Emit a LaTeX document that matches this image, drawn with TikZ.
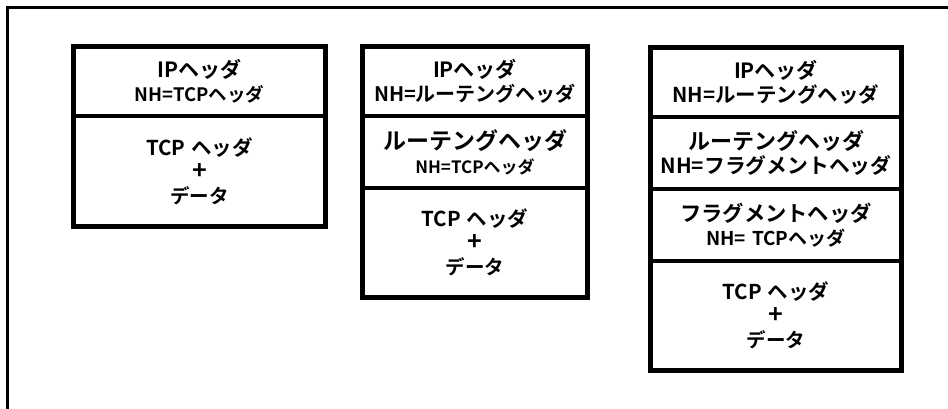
\documentclass[tikz,border=0pt]{standalone}
\usepackage{fontspec}
\newfontfamily\jp{Noto Sans CJK JP Bold}
\newcommand{\tline}[2]{{\fontsize{#1}{24}\selectfont #2}}
\tikzset{
  cell/.style={rectangle, inner sep=0pt, align=center, text width=#1, font=\jp\fontsize{18}{24}\selectfont},
  outerbox/.style={draw=black, line width=5pt},
  divider/.style={draw=black, line width=4pt},
  frame/.style={draw=black, line width=3pt}
}
\begin{document}
\begin{tikzpicture}[x=1pt,y=-1pt]
\useasboundingbox (0,0) rectangle (948,408);
\fill[white] (0,0) rectangle (948,408);
\coordinate (fbl) at (7.5,410);
\coordinate (ftl) at (7.5,7.5);
\coordinate (ftr) at (950,7.5);
\draw[frame] (fbl) -- (ftl) -- (ftr);

% Box 1
\node[cell=251pt, minimum width=251pt, minimum height=69pt] (a1) at (199.5,81.5)
  {\tline{21}{IPヘッダ}\\\tline{18.5}{NH=TCPヘッダ}};
\node[cell=251pt, minimum width=251pt, minimum height=110pt] (a2) at (199.5,171)
  {\tline{20.5}{TCP ヘッダ}\\\tline{25}{+}\\\tline{19.5}{データ}};
\draw[divider] (a1.south west) -- (a1.south east);
\draw[outerbox] (a1.north west) rectangle (a2.south east);

% Box 2
\node[cell=225pt, minimum width=225pt, minimum height=69.5pt] (b1) at (475,81.25)
  {\tline{21}{IPヘッダ}\\\tline{20}{NH=ルーテングヘッダ}};
\node[cell=225pt, minimum width=225pt, minimum height=72pt] (b2) at (475,152)
  {\tline{23}{ルーテングヘッダ}\\\tline{17}{NH=TCPヘッダ}};
\node[cell=225pt, minimum width=225pt, minimum height=109.5pt] (b3) at (475,242.75)
  {\tline{20.5}{TCP ヘッダ}\\\tline{25}{+}\\\tline{19.5}{データ}};
\draw[divider] (b1.south west) -- (b1.south east);
\draw[divider] (b2.south west) -- (b2.south east);
\draw[outerbox] (b1.north west) rectangle (b3.south east);

% Box 3
\node[cell=251pt, minimum width=251pt, minimum height=69.5pt] (c1) at (776,82.25)
  {\tline{21}{IPヘッダ}\\\tline{20.5}{NH=ルーテングヘッダ}};
\node[cell=251pt, minimum width=251pt, minimum height=72pt] (c2) at (776,153)
  {\tline{22}{ルーテングヘッダ}\\\tline{20.8}{NH=フラグメントヘッダ}};
\node[cell=251pt, minimum width=251pt, minimum height=71.5pt] (c3) at (776,224.75)
  {\tline{21.3}{フラグメントヘッダ}\\\tline{19}{NH= TCPヘッダ}};
\node[cell=251pt, minimum width=251pt, minimum height=110pt] (c4) at (776,315.5)
  {\tline{20.5}{TCP ヘッダ}\\\tline{25}{+}\\\tline{19.5}{データ}};
\draw[divider] (c1.south west) -- (c1.south east);
\draw[divider] (c2.south west) -- (c2.south east);
\draw[divider] (c3.south west) -- (c3.south east);
\draw[outerbox] (c1.north west) rectangle (c4.south east);
\end{tikzpicture}
\end{document}
